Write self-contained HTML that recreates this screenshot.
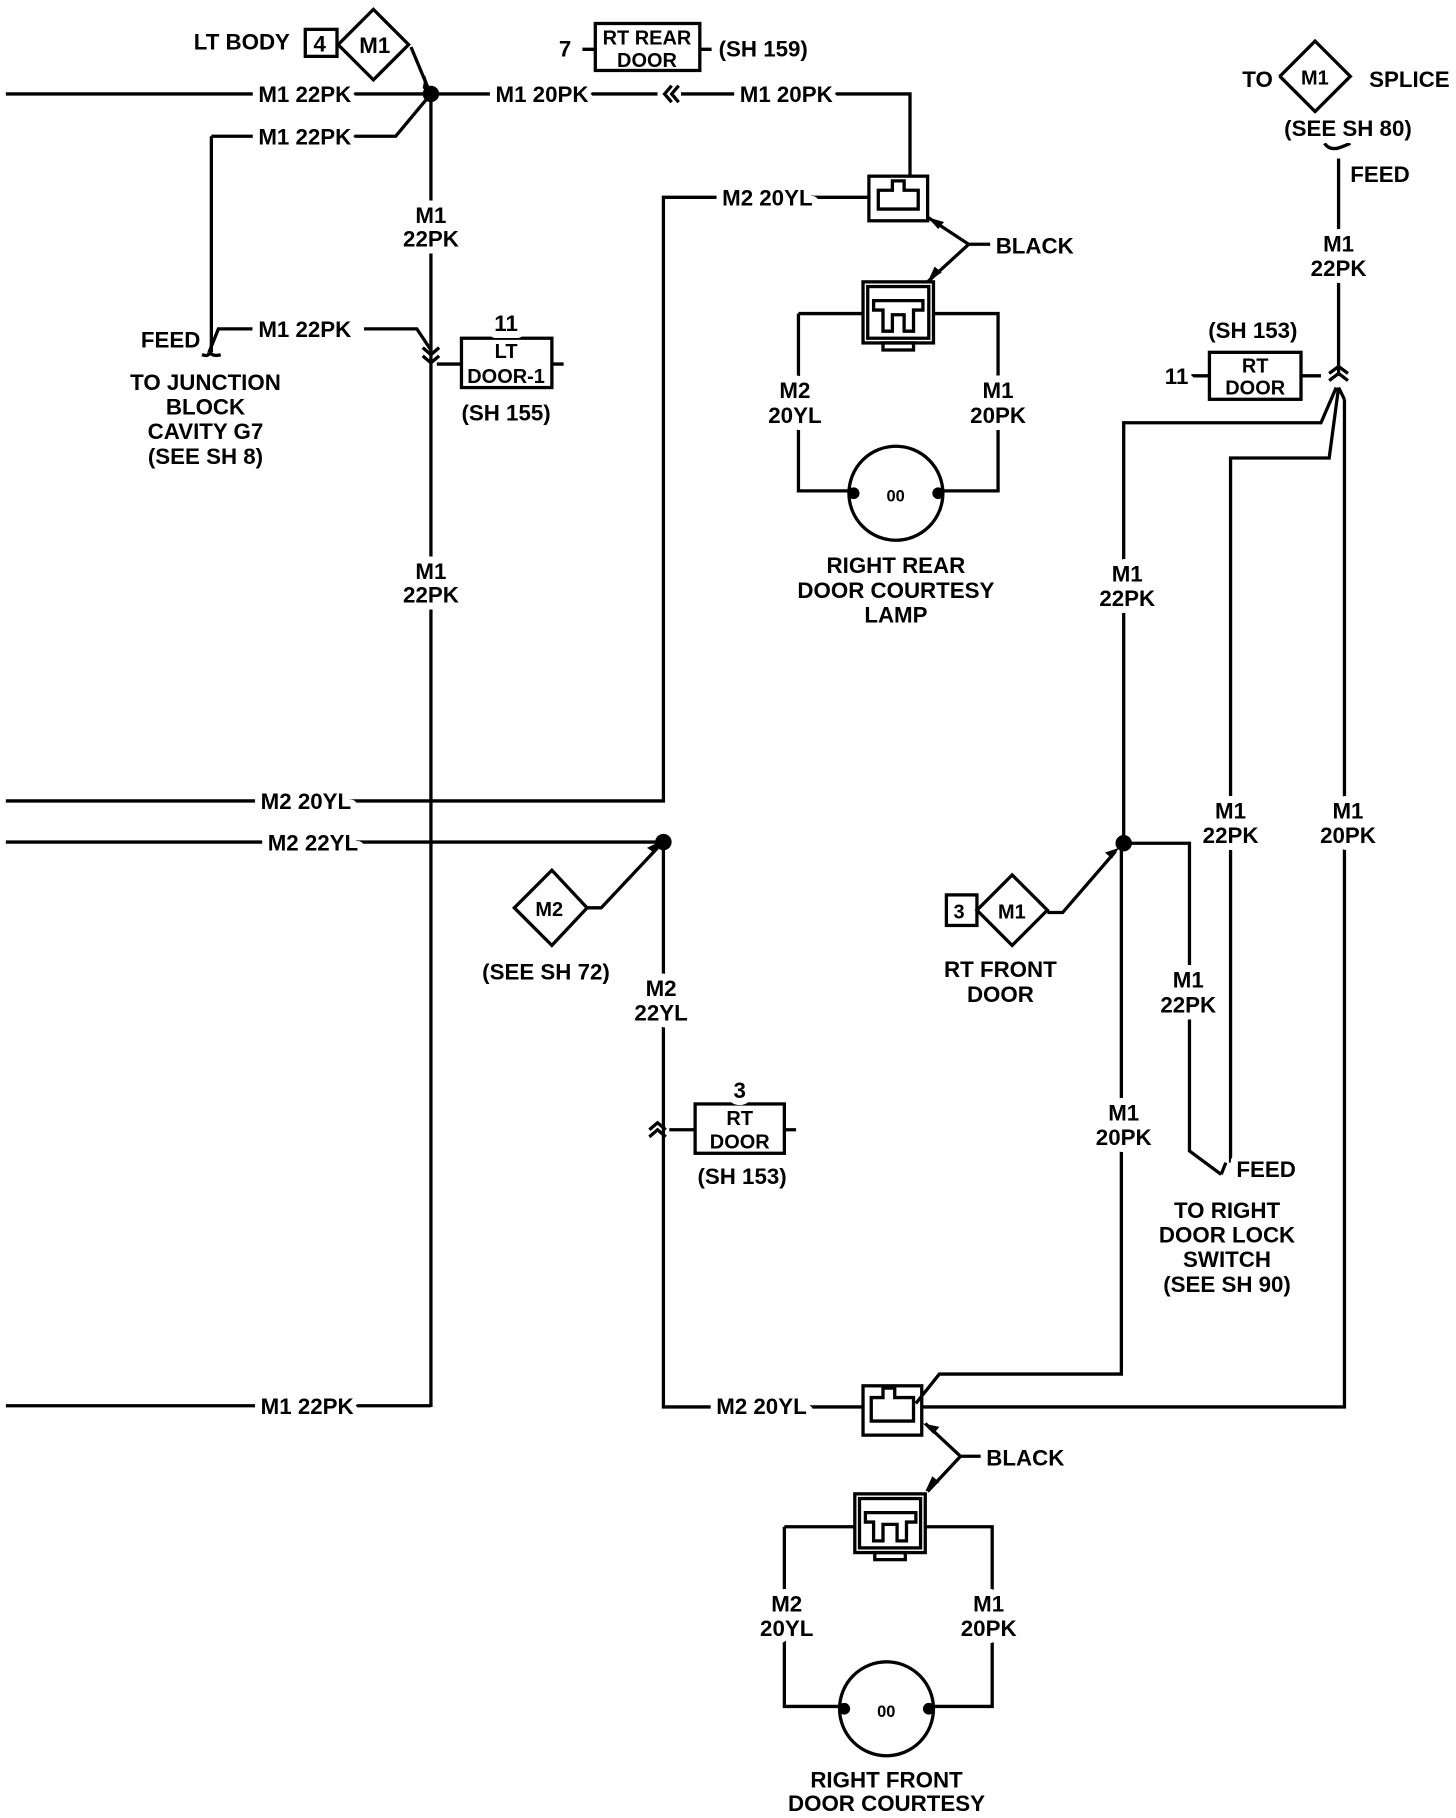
<!DOCTYPE html>
<html><head><meta charset="utf-8"><style>
html,body{margin:0;padding:0;background:#fff}
svg{display:block}
text{font-family:"Liberation Sans Narrow","Liberation Sans",sans-serif;font-weight:bold;font-size:19px;fill:#000;stroke:#fff;stroke-width:12px;paint-order:stroke;stroke-linejoin:round}
.c{text-anchor:middle}
</style></head><body>
<svg width="1456" height="1818" viewBox="0 0 1240 1548" preserveAspectRatio="none" xmlns="http://www.w3.org/2000/svg">
<g fill="none" stroke="#000" stroke-width="2.8" stroke-linejoin="miter">
<path d="M5 80H367"/>
<path d="M180 116H337L367 80"/>
<path d="M180 116V300"/>
<path d="M172 302q6 2 6 -2M178 300l8 -20H215M178 300q4 4 10 2"/>
<path d="M367 80V1198"/>
<path d="M310 280H355L367 298"/>
<path d="M360 296l7 6 7 -6M360 303l7 6 7 -6"/>
<path d="M372 310H393M470 310H480"/>
<rect x="393" y="288" width="77" height="42"/>
<rect x="260" y="25" width="27" height="23"/>
<path d="M318 8L348 38L318 68L288 38Z"/>
<path d="M350 40L365 76"/>
<path d="M367 80H560M580 80H775V150"/>
<path d="M572 73l-6 7 6 7M578 73l-6 7 6 7"/>
<rect x="507" y="20" width="89" height="40"/>
<path d="M496 42H507M596 42H606"/>
<path d="M5 682H565V168H740"/>
<rect x="740" y="150" width="50" height="38"/>
<path d="M748 178V162H760V154H770V162H782V178Z"/>
<path d="M790 185L825 208L790 240M825 208H845"/>
<rect x="735" y="240" width="60" height="52"/><rect x="739" y="244" width="52" height="44"/>
<path d="M744 256H786V264H778V282H770V268H760V282H752V264H744Z"/>
<rect x="752" y="292" width="26" height="6"/>
<path d="M680 267H735M795 267H850V418H803M680 267V418H723"/>
<circle cx="763" cy="420" r="40"/>
<path d="M5 717H565V1198H735"/>
<path d="M470 741L500 773L470 805L438 773Z"/>
<path d="M500 773H512L560 722"/>
<path d="M553 962l7 -6 7 6M553 968l7 -6 7 6"/>
<rect x="592" y="940" width="76" height="42"/>
<path d="M570 962H592M668 962H678"/>
<path d="M5 1197H367"/>
<rect x="735" y="1180" width="50" height="42"/>
<path d="M742 1210V1190H752V1182H762V1190H778V1210Z"/>
<path d="M780 1195L800 1170H955V718"/>
<path d="M785 1198H1145V340"/>
<path d="M788 1212L818 1240L790 1270M818 1240H838"/>
<rect x="728" y="1272" width="60" height="50"/><rect x="732" y="1276" width="52" height="42"/>
<path d="M737 1288H780V1296H772V1312H764V1298H752V1312H744V1296H737Z"/>
<rect x="745" y="1322" width="26" height="6"/>
<path d="M668 1300H728M788 1300H845V1453H795M668 1300V1453H715"/>
<circle cx="755" cy="1455" r="40"/>
<path d="M957 718V360H1125L1138 330"/>
<path d="M1048 990V390H1132L1140 330"/>
<path d="M1140 135V320"/>
<path d="M1132 318l8 -6 8 6M1132 324l8 -6 8 6"/>
<path d="M1128 122q4 6 12 4q6 -2 10 -4"/>
<path d="M1145 340L1140 330"/>
<path d="M1120 35L1150 65L1120 95L1090 65Z"/>
<rect x="1030" y="300" width="78" height="40"/>
<path d="M1013 320H1030M1108 320H1125"/>
<path d="M957 718H1013V980L1040 1000"/>
<path d="M1040 1000l4 -10"/>
<rect x="806" y="762" width="26" height="26"/>
<path d="M862 745L892 775L862 805L832 775Z"/>
<path d="M892 777H905L950 725"/>
</g>
<g fill="#000">
<circle cx="367" cy="80" r="7"/><circle cx="565" cy="717" r="7"/><circle cx="957" cy="718" r="7"/>
<path d="M360 75l8 7 -6 -18z"/><path d="M563 716l-12 6 6 4z"/><path d="M953 722l-12 4 6 5z"/>
<path d="M790 185l14 4 -5 6z"/><path d="M790 240l6 -13 6 5z"/>
<path d="M786 1212l14 3 -5 6z"/><path d="M788 1270l6 -13 6 5z"/>
<circle cx="727" cy="420" r="5"/><circle cx="799" cy="420" r="5"/>
<circle cx="719" cy="1455" r="5"/><circle cx="791" cy="1455" r="5"/>
</g>
<text x="165" y="42">LT BODY</text><text x="267" y="44" style="stroke-width:0">4</text><text x="306" y="45" style="stroke-width:0">M1</text>
<text x="220" y="87">M1 22PK</text><text x="220" y="123">M1 22PK</text>
<text x="220" y="287">M1 22PK</text>
<text x="422" y="87">M1 20PK</text><text x="630" y="87">M1 20PK</text>
<text x="476" y="48">7</text>
<text class="c" x="551" y="38" style="font-size:17px;stroke-width:0">RT REAR</text><text class="c" x="551" y="57" style="font-size:17px;stroke-width:0">DOOR</text>
<text x="612" y="48">(SH 159)</text>
<text class="c" x="367" y="190">M1</text><text class="c" x="367" y="210">22PK</text>
<text class="c" x="367" y="493">M1</text><text class="c" x="367" y="513">22PK</text>
<text class="c" x="431" y="282">11</text>
<text class="c" x="431" y="305" style="font-size:17px;stroke-width:0">LT</text><text class="c" x="431" y="326" style="font-size:17px;stroke-width:0">DOOR-1</text>
<text class="c" x="431" y="358">(SH 155)</text>
<text x="120" y="296">FEED</text>
<text class="c" x="175" y="332">TO JUNCTION</text><text class="c" x="175" y="353">BLOCK</text>
<text class="c" x="175" y="374">CAVITY G7</text><text class="c" x="175" y="395">(SEE SH 8)</text>
<text x="615" y="175">M2 20YL</text>
<text x="848" y="216">BLACK</text>
<text class="c" x="677" y="339">M2</text><text class="c" x="677" y="360">20YL</text>
<text class="c" x="850" y="339">M1</text><text class="c" x="850" y="360">20PK</text>
<text x="755" y="427" style="font-size:14px;stroke-width:0">00</text>
<text class="c" x="763" y="488">RIGHT REAR</text><text class="c" x="763" y="509">DOOR COURTESY</text><text class="c" x="763" y="530">LAMP</text>
<text x="222" y="689">M2 20YL</text><text x="228" y="724">M2 22YL</text>
<text x="456" y="780" style="font-size:17px;stroke-width:0">M2</text>
<text class="c" x="465" y="834">(SEE SH 72)</text>
<text class="c" x="563" y="848">M2</text><text class="c" x="563" y="869">22YL</text>
<text class="c" x="630" y="935">3</text>
<text class="c" x="630" y="958" style="font-size:17px;stroke-width:0">RT</text><text class="c" x="630" y="978" style="font-size:17px;stroke-width:0">DOOR</text>
<text class="c" x="632" y="1008">(SH 153)</text>
<text x="222" y="1204">M1 22PK</text><text x="610" y="1204">M2 20YL</text>
<text x="840" y="1248">BLACK</text>
<text class="c" x="670" y="1372">M2</text><text class="c" x="670" y="1393">20YL</text>
<text class="c" x="842" y="1372">M1</text><text class="c" x="842" y="1393">20PK</text>
<text x="747" y="1462" style="font-size:14px;stroke-width:0">00</text>
<text class="c" x="755" y="1522">RIGHT FRONT</text><text class="c" x="755" y="1542">DOOR COURTESY</text><text class="c" x="755" y="1562">LAMP</text>
<text x="1058" y="74">TO</text><text x="1108" y="72" style="font-size:17px;stroke-width:0">M1</text><text x="1166" y="74">SPLICE</text>
<text class="c" x="1148" y="116">(SEE SH 80)</text>
<text x="1150" y="155">FEED</text>
<text class="c" x="1140" y="214">M1</text><text class="c" x="1140" y="235">22PK</text>
<text class="c" x="1067" y="288">(SH 153)</text>
<text x="992" y="327">11</text>
<text class="c" x="1069" y="317" style="font-size:17px;stroke-width:0">RT</text><text class="c" x="1069" y="336" style="font-size:17px;stroke-width:0">DOOR</text>
<text class="c" x="960" y="495">M1</text><text class="c" x="960" y="516">22PK</text>
<text class="c" x="1048" y="697">M1</text><text class="c" x="1048" y="718">22PK</text>
<text class="c" x="1148" y="697">M1</text><text class="c" x="1148" y="718">20PK</text>
<text x="812" y="782" style="font-size:17px;stroke-width:0">3</text><text x="850" y="782" style="font-size:17px;stroke-width:0">M1</text>
<text class="c" x="852" y="832">RT FRONT</text><text class="c" x="852" y="853">DOOR</text>
<text class="c" x="1012" y="841">M1</text><text class="c" x="1012" y="862">22PK</text>
<text class="c" x="957" y="954">M1</text><text class="c" x="957" y="975">20PK</text>
<text x="1053" y="1002">FEED</text>
<text class="c" x="1045" y="1037">TO RIGHT</text><text class="c" x="1045" y="1058">DOOR LOCK</text>
<text class="c" x="1045" y="1079">SWITCH</text><text class="c" x="1045" y="1100">(SEE SH 90)</text>
</svg>
</body></html>
